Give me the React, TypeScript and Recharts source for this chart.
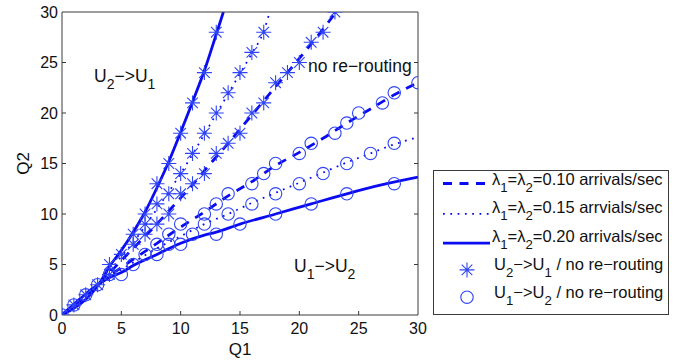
import React from 'react';
import { ComposedChart, Line, Scatter, XAxis, YAxis } from 'recharts';

const W = 677;
const H = 362;
const BLUE = '#0b0bf2';
const MARK = '#2f45f5';
const AXIS = '#3a3a3a';
const TEXT = '#111111';
const FONT = '"Liberation Sans", Arial, Helvetica, sans-serif';

const xTicks = [0, 5, 10, 15, 20, 25, 30];
const yTicks = [0, 5, 10, 15, 20, 25, 30];

// ---- curves (Q1, Q2) ----
const dashedUpperLine = [[0, 0], [3.3, 3.3], [5, 5.4], [6, 6.6], [7, 7.8], [8, 9], [9, 10.3], [10, 11.6], [11, 12.9], [12, 14.3], [14, 17], [16, 19.8], [18, 22.6], [20, 25.4], [22, 28.3], [23.1, 30]];
const dottedUpperLine = [[0, 0], [3.3, 3.3], [5, 5.8], [6, 7.2], [7, 8.8], [8, 10.5], [9, 12.2], [10, 14], [11, 15.9], [12, 17.9], [13, 19.9], [14, 21.9], [15, 23.9], [16, 25.9], [17, 28.1], [17.5, 30]];
const solidUpperLine = [[0, 0], [3.3, 3.4], [4, 4.8], [5, 6.4], [6, 8.2], [7, 10.2], [8, 12.6], [9, 15.2], [10, 18.1], [11, 21.1], [12, 24.2], [13, 27.8], [13.6, 30]];
const dashedLowerLine = [[0, 0], [3.3, 3.3], [5, 4.7], [6, 5.5], [8, 7.1], [10, 8.7], [12, 10.2], [14, 11.8], [16, 13.2], [18, 14.8], [20, 16.1], [22, 17.5], [24, 19], [26, 20.4], [28, 21.8], [30, 23]];
const dottedLowerLine = [[0, 0], [3.3, 3.3], [5, 4.5], [6, 5.2], [8, 6.6], [10, 7.8], [12, 9], [14, 10], [16, 11.1], [18, 12.1], [20, 13.1], [22, 14.1], [24, 15.1], [26, 16], [28, 16.9], [30, 17.6]];
const solidLowerLine = [[0, 0], [3.3, 3.2], [4, 3.7], [5, 4.2], [6, 4.9], [8, 6], [10, 7.1], [12, 7.9], [13, 8.2], [15, 9], [18, 10], [21, 11], [24, 12], [27, 12.9], [30, 13.65]];

// ---- markers ----
const starsSolid = [[0, 0], [1, 1], [2, 2], [3, 3], [4, 5], [5, 6], [6, 8], [7, 10], [8, 13], [9, 15], [10, 18], [11, 21], [12, 24], [13, 28]];
const starsDotted = [[6, 7], [7, 9], [8, 11], [9, 12], [10, 14], [11, 16], [12, 18], [13, 20], [14, 22], [15, 24], [16, 26], [17, 28]];
const starsDashed = [[4, 4], [7, 8], [8, 9], [9, 10], [10, 12], [11, 13], [12, 14], [13, 16], [14, 17], [15, 18], [16, 20], [17, 21], [18, 23], [19, 24], [20, 25], [21, 27], [22, 28], [23, 30]];
const circlesSolid = [[0, 0], [1, 1], [2, 2], [3, 3], [5, 4], [6, 5], [8, 6], [10, 7], [13, 8], [15, 9], [18, 10], [21, 11], [24, 12], [28, 13]];
const circlesDotted = [[7, 6], [9, 7], [11, 8], [12, 9], [14, 10], [16, 11], [18, 12], [20, 13], [22, 14], [24, 15], [26, 16], [28, 17]];
const circlesDashed = [[4, 4], [8, 7], [9, 8], [10, 9], [12, 10], [13, 11], [14, 12], [16, 13], [17, 14], [18, 15], [20, 16], [21, 17], [23, 18], [24, 19], [25, 20], [27, 21], [28, 22], [30, 23]];

const toPts = (a: number[][]) => a.map(([x, y]) => ({ x, y }));

const DASH = '9 7.5';
const DOT = '1.8 5.5';
const DOT_W = 1.8;

function starPath(cx: number, cy: number, r = 7.5) {
  const d = r * 0.7071;
  return `M${cx - r},${cy}H${cx + r}M${cx},${cy - r}V${cy + r}M${cx - d},${cy - d}L${cx + d},${cy + d}M${cx - d},${cy + d}L${cx + d},${cy - d}`;
}

const StarShape = (p: any) => {
  if (p.cx == null || p.cy == null) return <g />;
  return <path d={starPath(p.cx, p.cy)} stroke={MARK} strokeWidth={1.1} fill="none" />;
};
const CircleShape = (p: any) => {
  if (p.cx == null || p.cy == null) return <g />;
  return <circle cx={p.cx} cy={p.cy} r={6.2} stroke={MARK} strokeWidth={1.1} fill="none" />;
};

const tickText = { fill: TEXT, fontSize: 16, fontFamily: FONT };

const BottomTick = (p: any) => {
  const { x, y, payload } = p;
  const ay = y - 8;
  const v = payload.value;
  return (
    <g>
      {v !== 0 && v !== 30 && <line x1={x} y1={ay} x2={x} y2={ay - 4} stroke={AXIS} strokeWidth={1} />}
      <text x={x} y={y} dy="0.71em" textAnchor="middle" {...tickText}>{v}</text>
    </g>
  );
};
const LeftTick = (p: any) => {
  const { x, y, payload } = p;
  const ax = x + 4;
  const v = payload.value;
  return (
    <g>
      {v !== 0 && v !== 30 && <line x1={ax} y1={y} x2={ax + 4} y2={y} stroke={AXIS} strokeWidth={1} />}
      <text x={x} y={y} dy="0.36em" textAnchor="end" {...tickText}>{v}</text>
    </g>
  );
};
const TopTick = (p: any) => {
  const { x, y, payload } = p;
  const v = payload.value;
  if (v === 0 || v === 30) return <g />;
  return <line x1={x} y1={y} x2={x} y2={y + 4} stroke={AXIS} strokeWidth={1} />;
};
const RightTick = (p: any) => {
  const { x, y, payload } = p;
  const v = payload.value;
  if (v === 0 || v === 30) return <g />;
  return <line x1={x} y1={y} x2={x - 4} y2={y} stroke={AXIS} strokeWidth={1} />;
};

const Q2Label = (p: any) => {
  const vb = p.viewBox || { x: 0, y: 12, height: 303 };
  const cx = (vb.x ?? 0) + 29;
  const cy = (vb.y ?? 12) + (vb.height ?? 303) / 2;
  return (
    <text x={cx} y={cy} transform={`rotate(-90 ${cx} ${cy})`} textAnchor="middle" fill={TEXT} fontSize={17} fontFamily={FONT}>Q2</text>
  );
};

type Part = string | { sub: string };
function rich(parts: Part[], fs: number) {
  const shift = fs * 0.42;
  const subFs = fs * 0.8;
  let lowered = false;
  return parts.map((p, i) => {
    if (typeof p === 'string') {
      const dy = lowered ? -shift : 0;
      lowered = false;
      return <tspan key={i} dy={dy} fontSize={fs}>{p}</tspan>;
    }
    const dy = lowered ? 0 : shift;
    lowered = true;
    return <tspan key={i} dy={dy} fontSize={subFs}>{p.sub}</tspan>;
  });
}

const legendLabels: Part[][] = [
  ['λ', { sub: '1' }, '=λ', { sub: '2' }, '=0.10 arrivals/sec'],
  ['λ', { sub: '1' }, '=λ', { sub: '2' }, '=0.15 arrvials/sec'],
  ['λ', { sub: '1' }, '=λ', { sub: '2' }, '=0.20 arrivals/sec'],
  ['U', { sub: '2' }, '−>U', { sub: '1' }, ' / no re−routing'],
  ['U', { sub: '1' }, '−>U', { sub: '2' }, ' / no re−routing'],
];

const Legend = () => {
  const base = [15, 43.3, 71.6, 99.9, 128.2];
  return (
    <svg width={236} height={145} style={{ position: 'absolute', left: 432.5, top: 169.5 }}>
      <rect x={0.5} y={0.5} width={235} height={144} fill="#fff" stroke={AXIS} strokeWidth={1} />
      <line x1={10} y1={base[0] - 1.5} x2={57} y2={base[0] - 1.5} stroke={BLUE} strokeWidth={2.8} strokeDasharray={DASH} />
      <line x1={10} y1={base[1] + 0.5} x2={57} y2={base[1] + 0.5} stroke={BLUE} strokeWidth={DOT_W} strokeDasharray={DOT} />
      <line x1={10} y1={base[2] + 1.5} x2={57} y2={base[2] + 1.5} stroke={BLUE} strokeWidth={2.8} />
      <path d={starPath(34, base[3])} stroke={MARK} strokeWidth={1.1} fill="none" />
      <circle cx={34} cy={base[4] - 1} r={6.2} stroke={MARK} strokeWidth={1.1} fill="none" />
      {legendLabels.map((parts, i) => (
        <text key={i} x={i < 3 ? 59 : 61} y={base[i]} fill={TEXT} fontFamily={FONT}>
          {rich(parts, 16.5)}
        </text>
      ))}
    </svg>
  );
};

const Annotations = () => (
  <svg width={W} height={H} style={{ position: 'absolute', left: 0, top: 0, pointerEvents: 'none' }}>
    <text x={94} y={82} fill={TEXT} fontFamily={FONT}>{rich(['U', { sub: '2' }, '−>U', { sub: '1' }], 17.5)}</text>
    <text x={308} y={72} fill={TEXT} fontFamily={FONT} fontSize={17.5}>no re−routing</text>
    <text x={294} y={272} fill={TEXT} fontFamily={FONT}>{rich(['U', { sub: '1' }, '−>U', { sub: '2' }], 17.5)}</text>
  </svg>
);

export default function App() {
  return (
    <div style={{ position: 'relative', width: W, height: H, background: '#fff' }}>
      <style>{`body{margin:0;background:#fff;}`}</style>
      <ComposedChart width={W} height={H} margin={{ top: 11, right: 258, bottom: 7, left: 0 }}>
        <XAxis
          type="number"
          dataKey="x"
          domain={[0, 30]}
          ticks={xTicks}
          interval={0}
          allowDataOverflow
          height={40}
          tickSize={0}
          tickMargin={8}
          tickLine={false}
          axisLine={{ stroke: AXIS }}
          tick={BottomTick}
          label={{ value: 'Q1', position: 'insideBottom', offset: 0, fill: TEXT, fontSize: 17, fontFamily: FONT }}
        />
        <XAxis
          xAxisId="top"
          orientation="top"
          type="number"
          domain={[0, 30]}
          ticks={xTicks}
          interval={0}
          allowDataOverflow
          height={1}
          tickSize={0}
          tickMargin={0}
          tickLine={false}
          axisLine={{ stroke: AXIS }}
          tick={TopTick}
        />
        <YAxis
          type="number"
          dataKey="y"
          domain={[0, 30]}
          ticks={yTicks}
          interval={0}
          allowDataOverflow
          width={62}
          tickSize={0}
          tickMargin={4}
          tickLine={false}
          axisLine={{ stroke: AXIS }}
          tick={LeftTick}
          label={{ content: Q2Label } as any}
        />
        <YAxis
          yAxisId="right"
          orientation="right"
          type="number"
          domain={[0, 30]}
          ticks={yTicks}
          interval={0}
          allowDataOverflow
          width={1}
          tickSize={0}
          tickMargin={0}
          tickLine={false}
          axisLine={{ stroke: AXIS }}
          tick={RightTick}
        />
        <Line data={toPts(dashedUpperLine)} dataKey="y" type="monotone" stroke={BLUE} strokeWidth={2.8} strokeDasharray={DASH} dot={false} activeDot={false} isAnimationActive={false} />
        <Line data={toPts(dottedUpperLine)} dataKey="y" type="monotone" stroke={BLUE} strokeWidth={DOT_W} strokeDasharray={DOT} dot={false} activeDot={false} isAnimationActive={false} />
        <Line data={toPts(solidUpperLine)} dataKey="y" type="monotone" stroke={BLUE} strokeWidth={2.8} dot={false} activeDot={false} isAnimationActive={false} />
        <Line data={toPts(dashedLowerLine)} dataKey="y" type="monotone" stroke={BLUE} strokeWidth={2.8} strokeDasharray={DASH} dot={false} activeDot={false} isAnimationActive={false} />
        <Line data={toPts(dottedLowerLine)} dataKey="y" type="monotone" stroke={BLUE} strokeWidth={DOT_W} strokeDasharray={DOT} dot={false} activeDot={false} isAnimationActive={false} />
        <Line data={toPts(solidLowerLine)} dataKey="y" type="monotone" stroke={BLUE} strokeWidth={2.8} dot={false} activeDot={false} isAnimationActive={false} />
        <Scatter data={toPts(starsSolid)} shape={StarShape} isAnimationActive={false} />
        <Scatter data={toPts(starsDotted)} shape={StarShape} isAnimationActive={false} />
        <Scatter data={toPts(starsDashed)} shape={StarShape} isAnimationActive={false} />
        <Scatter data={toPts(circlesSolid)} shape={CircleShape} isAnimationActive={false} />
        <Scatter data={toPts(circlesDotted)} shape={CircleShape} isAnimationActive={false} />
        <Scatter data={toPts(circlesDashed)} shape={CircleShape} isAnimationActive={false} />
      </ComposedChart>
      <Annotations />
      <Legend />
    </div>
  );
}
